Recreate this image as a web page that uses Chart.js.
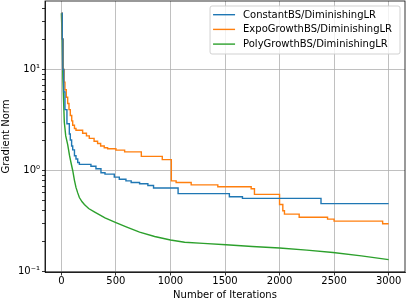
<!DOCTYPE html>
<html>
<head>
<meta charset="utf-8">
<script src="https://cdn.jsdelivr.net/npm/chart.js@4.4.1/dist/chart.umd.min.js"></script>
<style>
  html, body { margin: 0; padding: 0; background: #fff; }
  #wrap { width: 407px; height: 299px; }
</style>
</head>
<body>
<div id="wrap"><canvas id="grafico" width="407" height="299"></canvas></div>
<script>
// Datos (iteración, norma del gradiente)
const seriesLabels = ['ConstantBS/DiminishingLR', 'ExpoGrowthBS/DiminishingLR', 'PolyGrowthBS/DiminishingLR'];
const seriesColors = ['#1f77b4', '#ff7f0e', '#2ca02c'];

const constIters = [0, 8, 14, 22, 33, 51, 73, 82, 94, 104, 120, 134, 150, 165, 271, 317, 363, 400, 485, 531, 592, 640, 717, 793, 845, 1070, 1540, 1660, 2380, 3000];
const constVals  = [36, 20, 10, 6, 4.0, 2.9, 2.3, 2.0, 1.75, 1.6, 1.4, 1.3, 1.2, 1.15, 1.1, 1.04, 0.95, 0.92, 0.86, 0.82, 0.79, 0.76, 0.74, 0.71, 0.67, 0.59, 0.55, 0.53, 0.47, 0.47];

const expoIters = [0, 8, 15, 25, 33, 45, 58, 70, 82, 95, 104, 120, 134, 195, 230, 256, 300, 332, 360, 393, 424, 500, 580, 733, 925, 1008, 1052, 1190, 1434, 1740, 1770, 2000, 2030, 2045, 2180, 2440, 2500, 2945, 3000];
const expoVals  = [36, 20, 10, 7.5, 6.3, 5.3, 4.6, 4.0, 3.5, 3.1, 2.8, 2.6, 2.5, 2.34, 2.2, 2.08, 1.95, 1.85, 1.75, 1.68, 1.64, 1.59, 1.53, 1.38, 1.28, 0.79, 0.76, 0.72, 0.69, 0.66, 0.58, 0.46, 0.40, 0.37, 0.345, 0.33, 0.315, 0.297, 0.297];

const polyIters = [0, 8, 14, 20, 27, 40, 58, 75, 88, 104, 120, 134, 150, 165, 190, 211, 250, 302, 400, 500, 600, 717, 855, 1000, 1130, 1300, 1510, 1750, 2000, 2250, 2490, 2750, 3000];
const polyVals  = [36, 20, 8, 5, 3, 2.2, 1.8, 1.4, 1.2, 1.0, 0.8, 0.68, 0.6, 0.54, 0.49, 0.46, 0.42, 0.39, 0.34, 0.305, 0.275, 0.245, 0.222, 0.205, 0.195, 0.19, 0.184, 0.177, 0.171, 0.163, 0.154, 0.143, 0.131];

const xTicks = [0, 500, 1000, 1500, 2000, 2500, 3000];
const yTicks = [0.1, 0.2, 0.3, 0.4, 0.5, 0.6, 0.7, 0.8, 0.9, 1, 2, 3, 4, 5, 6, 7, 8, 9, 10, 20, 30, 40];

const toPoints = (xs, ys) => xs.map((x, i) => ({ x: x, y: ys[i] }));
const esPotencia = v => Math.abs(Math.log10(v) - Math.round(Math.log10(v))) < 1e-9;
const sup = { '-': '⁻', '0': '⁰', '1': '¹', '2': '²', '3': '³' };
const etiquetaLog = v => '10' + String(Math.round(Math.log10(v))).split('').map(c => sup[c]).join('');

Chart.defaults.font.family = 'DejaVu Sans';
Chart.defaults.font.size = 10;
Chart.defaults.color = '#000';

// Marco completo del área (spines de arriba y derecha)
const marco = {
    id: 'marco',
    afterDatasetsDraw(chart) {
        const { ctx, chartArea: a } = chart;
        ctx.save();
        ctx.strokeStyle = '#000';
        ctx.lineWidth = 0.8;
        ctx.strokeRect(a.left, a.top, a.right - a.left, a.bottom - a.top);
        ctx.restore();
    }
};

// Leyenda dentro del área, arriba a la derecha
const leyenda = {
    id: 'leyenda',
    afterDraw(chart) {
        const { ctx, chartArea: a } = chart;
        const sets = chart.data.datasets;
        ctx.save();
        ctx.font = '10px "DejaVu Sans"';
        const maxW = Math.max(...sets.map(d => ctx.measureText(d.label).width));
        const w = 3 + 22 + 8 + maxW + 8;
        const h = 48;
        const x0 = a.right - 5 - w;
        const y0 = a.top + 5;
        ctx.beginPath();
        ctx.roundRect(x0, y0, w, h, 2);
        ctx.fillStyle = 'rgba(255,255,255,0.8)';
        ctx.fill();
        ctx.strokeStyle = 'rgba(204,204,204,0.9)';
        ctx.lineWidth = 1;
        ctx.stroke();
        sets.forEach((d, i) => {
            const y = y0 + 8.7 + i * 14.7;
            ctx.beginPath();
            ctx.moveTo(x0 + 3, y);
            ctx.lineTo(x0 + 25, y);
            ctx.strokeStyle = d.borderColor;
            ctx.lineWidth = 1.4;
            ctx.stroke();
            ctx.fillStyle = '#000';
            ctx.textBaseline = 'middle';
            ctx.fillText(d.label, x0 + 33, y + 0.5);
        });
        ctx.restore();
    }
};

const datos = [toPoints(constIters, constVals), toPoints(expoIters, expoVals), toPoints(polyIters, polyVals)];
const escalonado = ['before', 'before', false];

new Chart(document.getElementById('grafico'), {
    type: 'line',
    data: {
        datasets: seriesLabels.map((label, i) => ({
            label: label,
            data: datos[i],
            borderColor: seriesColors[i],
            backgroundColor: seriesColors[i],
            borderWidth: 1.4,
            pointRadius: 0,
            stepped: escalonado[i],
            tension: 0,
            fill: false
        }))
    },
    options: {
        responsive: false,
        animation: false,
        devicePixelRatio: 1,
        layout: { padding: { top: 1, right: 2, left: 0, bottom: 0 } },
        plugins: { legend: { display: false }, tooltip: { enabled: false } },
        scales: {
            x: {
                type: 'linear',
                min: -150,
                max: 3150,
                afterBuildTicks: s => { s.ticks = xTicks.map(v => ({ value: v })); },
                afterFit: s => { s.height = 27; s.paddingLeft = 0; s.paddingRight = 0; },
                ticks: { autoSkip: false, maxRotation: 0, padding: 0, callback: v => String(v) },
                grid: { color: '#b0b0b0', lineWidth: 0.8, tickColor: '#000', tickLength: 3.5 },
                border: { color: '#000', width: 0.8 },
                title: { display: true, text: 'Number of Iterations', padding: { top: 1, bottom: -2 } }
            },
            y: {
                type: 'logarithmic',
                min: 0.0989,
                max: 47.6,
                afterBuildTicks: s => { s.ticks = yTicks.map(v => ({ value: v, major: esPotencia(v) })); },
                afterFit: s => { s.width = 45; s.paddingTop = 0; s.paddingBottom = 0; },
                ticks: { autoSkip: false, padding: 2, callback: v => esPotencia(v) ? etiquetaLog(v) : '' },
                grid: {
                    color: c => (c.tick && esPotencia(c.tick.value)) ? '#b0b0b0' : 'rgba(0,0,0,0)',
                    lineWidth: 0.8,
                    tickColor: '#000',
                    tickLength: 3
                },
                border: { color: '#000', width: 0.8 },
                title: { display: true, text: 'Gradient Norm', padding: { top: 0, bottom: 2 } }
            }
        }
    },
    plugins: [marco, leyenda]
});
</script>
</body>
</html>
